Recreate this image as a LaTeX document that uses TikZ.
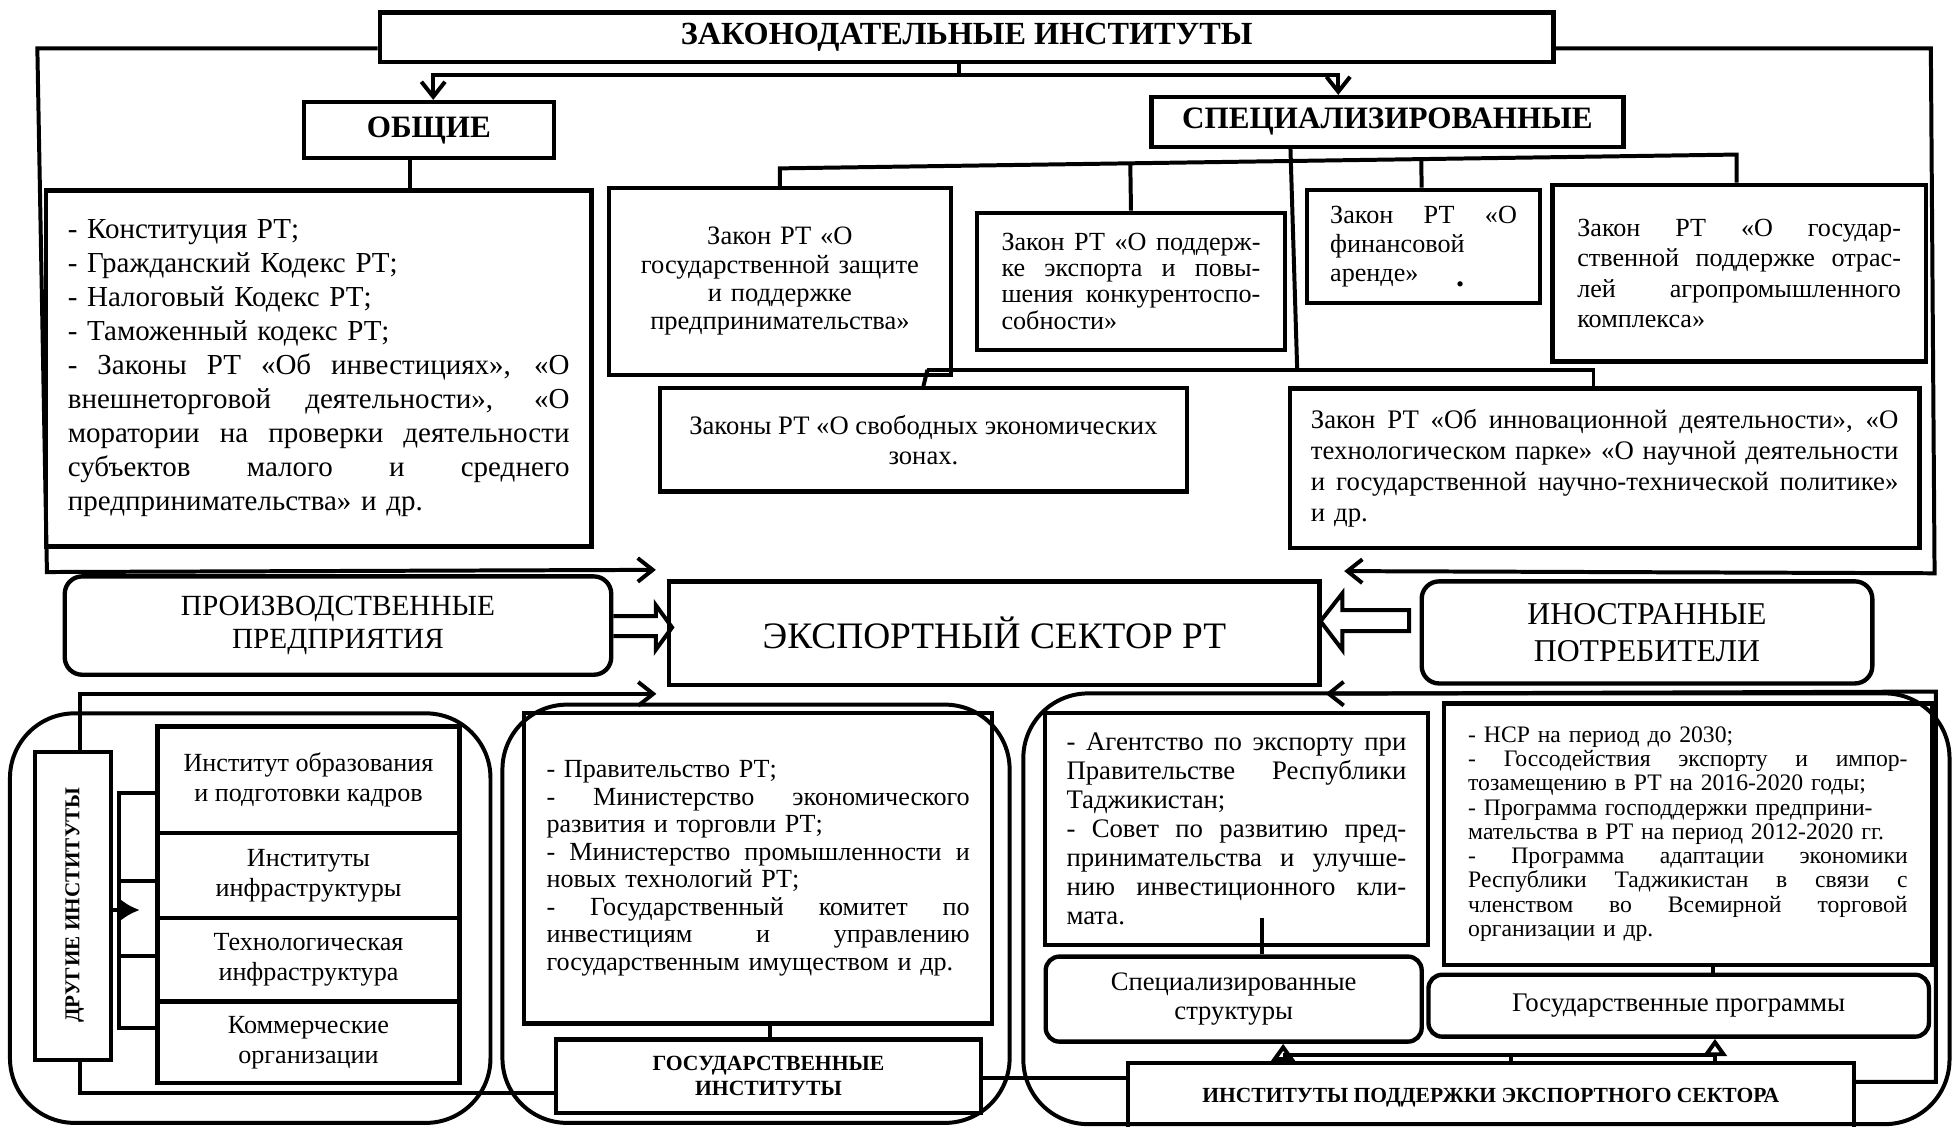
\documentclass[tikz,border=0pt]{standalone}
\usepackage{fontspec}
\setmainfont{Liberation Serif}
\usetikzlibrary{calc,arrows.meta}
\newcommand\setfs[2]{\fontsize{#1}{#2}\selectfont}
\newcommand\jl[2]{\leavevmode\hbox to #1{\spaceskip=.25em plus 1fil\xspaceskip=.25em plus 1fil\relax #2}}
\begin{document}
\begin{tikzpicture}[x=1pt,y=-1pt,
  box/.style={draw,line width=3.5pt,rectangle,inner sep=0pt,align=center},
  rbox/.style={box,rounded corners=14pt},
  sbox/.style={box,rounded corners=11pt},
  grp/.style={draw,line width=3.2pt,rectangle,rounded corners=52pt,inner sep=0pt},
  conn/.style={line width=3.2pt},
  harrow/.style={line width=3.2pt,line join=miter},
  arrV/.style={-{Straight Barb[length=12pt,width=19pt]}},
  arrL/.style={-{Latex[length=15pt,width=17pt]}},
  arrT/.style={-{Triangle[open,length=14pt,width=19pt]}},
]
\useasboundingbox (0,0) rectangle (1568,905);

% group containers
\node[grp,minimum width=386pt,minimum height=329pt] (grp1) at (201,737.5) {};
\node[grp,minimum width=407.4pt,minimum height=336pt] (grp2) at (607.3,734) {};
\node[grp,minimum width=744pt,minimum height=346pt] (grp3) at (1194,730) {};

% top level
\node[box,minimum width=943pt,minimum height=40pt,font={\bfseries\setfs{25.9}{30}}] (top) at (776.5,30) {ЗАКОНОДАТЕЛЬНЫЕ ИНСТИТУТЫ};
\node[box,minimum width=201pt,minimum height=45pt,font={\bfseries\setfs{25}{30}}] (obsh) at (344.5,104.5) {ОБЩИЕ};
\node[box,minimum width=379pt,minimum height=40pt,font={\bfseries\setfs{25}{30}}] (spec) at (1114.5,98) {СПЕЦИАЛИЗИРОВАННЫЕ};

\node[box,minimum width=438pt,minimum height=286pt,text width=403pt,align=left,font={\setfs{23.3}{27.3}}] (gen) at (256,296) {%
- Конституция РТ;\\
- Гражданский Кодекс РТ;\\
- Налоговый Кодекс РТ;\\
- Таможенный кодекс РТ;\\
\jl{403pt}{- Законы РТ «Об инвестициях», «О}\\
\jl{403pt}{внешнеторговой деятельности», «О}\\
\jl{403pt}{моратории на проверки деятельности}\\
\jl{403pt}{субъектов малого и среднего}\\
предпринимательства» и др.};

\node[box,minimum width=275pt,minimum height=150pt,text width=255pt,font={\setfs{21.3}{22.7}}] (A) at (626.5,226) {Закон РТ «О\\ государственной защите\\ и поддержке\\ предпринимательства»};

\node[box,minimum width=247pt,minimum height=110pt,text width=208pt,align=left,font={\setfs{21}{21}}] (B) at (908.5,226) {%
\jl{208pt}{Закон РТ «О поддерж-}\\
\jl{208pt}{ке экспорта и повы-}\\
\jl{208pt}{шения конкурентоспо-}\\
собности»};

\node[box,minimum width=187pt,minimum height=91pt,text width=150pt,align=left,font={\setfs{21}{23.5}}] (C) at (1143.5,198) {%
\jl{150pt}{Закон РТ «О}\\
финансовой\\
аренде»};
\node[inner sep=0pt,font={\bfseries\setfs{26}{26}}] (cdot) at (1173,228) {.};

\node[box,minimum width=300pt,minimum height=142pt,text width=260pt,align=left,font={\setfs{21}{24.5}}] (D) at (1397,219.5) {%
\jl{260pt}{Закон РТ «О государ-}\\
\jl{260pt}{ственной поддержке отрас-}\\
\jl{260pt}{лей агропромышленного}\\
комплекса»};

\node[box,minimum width=423.5pt,minimum height=83pt,font={\setfs{21.4}{24}}] (E) at (741.75,353.4) {Законы РТ «О свободных экономических\\ зонах.};

\node[box,minimum width=506pt,minimum height=128pt,text width=472pt,align=left,font={\setfs{21.5}{25}}] (F) at (1289,376) {%
\jl{472pt}{Закон РТ «Об инновационной деятельности», «О}\\
\jl{472pt}{технологическом парке» «О научной деятельности}\\
\jl{472pt}{и государственной научно-технической политике»}\\
и др.};

% middle row
\node[rbox,minimum width=439pt,minimum height=79pt,font={\setfs{23.5}{26}}] (prod) at (271.5,502.5) {ПРОИЗВОДСТВЕННЫЕ\\ПРЕДПРИЯТИЯ};
\node[box,minimum width=522.4pt,minimum height=83pt,font={\setfs{30}{32}}] (export) at (798.8,508.5) {ЭКСПОРТНЫЙ СЕКТОР РТ};
\node[rbox,minimum width=362pt,minimum height=82pt,font={\setfs{25.5}{29.4}}] (inostr) at (1323,508) {ИНОСТРАННЫЕ\\ПОТРЕБИТЕЛИ};

% bottom left group
\node[box,minimum width=61pt,minimum height=247.6pt] (drug) at (58.5,727.6) {};
\node[rotate=90,inner sep=0pt,font={\bfseries\setfs{17}{20}}] (drugt) at (60,727) {ДРУГИЕ ИНСТИТУТЫ};
\node[box,minimum width=242.4pt,minimum height=85.3pt,font={\setfs{21}{24}}] (s1) at (247.8,626.35) {Институт образования\\и подготовки кадров};
\node[box,minimum width=242.4pt,minimum height=68.6pt,font={\setfs{21}{24}}] (s2) at (247.8,703.3) {Институты\\инфраструктуры};
\node[box,minimum width=242.4pt,minimum height=67pt,font={\setfs{21}{24}}] (s3) at (247.8,771.1) {Технологическая\\инфраструктура};
\node[box,minimum width=242.4pt,minimum height=65.4pt,font={\setfs{21}{24}}] (s4) at (247.8,837.3) {Коммерческие\\организации};

% bottom middle group
\node[box,minimum width=376pt,minimum height=249.3pt,text width=340pt,align=left,font={\setfs{21}{22.1}}] (govlist) at (609,697.35) {%
- Правительство РТ;\\
\jl{340pt}{- Министерство экономического}\\
развития и торговли РТ;\\
\jl{340pt}{- Министерство промышленности и}\\
новых технологий РТ;\\
\jl{340pt}{- Государственный комитет по}\\
\jl{340pt}{инвестициям и управлению}\\
государственным имуществом и др.};
\node[box,minimum width=341.4pt,minimum height=59pt,font={\bfseries\setfs{17.4}{20}}] (govinst) at (617.3,864.5) {ГОСУДАРСТВЕННЫЕ\\ИНСТИТУТЫ};

% bottom right group
\node[box,minimum width=307.6pt,minimum height=186.3pt,text width=273pt,align=left,font={\setfs{21.5}{23.2}}] (agency) at (993.2,665.85) {%
\jl{273pt}{- Агентство по экспорту при}\\
\jl{273pt}{Правительстве Республики}\\
Таджикистан;\\
\jl{273pt}{- Совет по развитию пред-}\\
\jl{273pt}{принимательства и улучше-}\\
\jl{273pt}{нию инвестиционного кли-}\\
мата.};
\node[sbox,minimum width=302pt,minimum height=68.3pt,font={\setfs{21.4}{23}}] (specstr) at (991,802.55) {Специализированные\\структуры};
\node[box,minimum width=392.3pt,minimum height=210pt,text width=353pt,align=left,font={\setfs{19}{19.5}}] (proglist) at (1355.85,670) {%
- НСР на период до 2030;\\
\jl{353pt}{- Госсодействия экспорту и импор-}\\
тозамещению в РТ на 2016-2020 годы;\\
- Программа господдержки предприни-\\
мательства в РТ на период 2012-2020 гг.\\
\jl{353pt}{- Программа адаптации экономики}\\
\jl{353pt}{Республики Таджикистан в связи с}\\
\jl{353pt}{членством во Всемирной торговой}\\
организации и др.};
\node[sbox,minimum width=402pt,minimum height=49.7pt,font={\setfs{21.6}{24}}] (govprog) at (1348.45,807.85) {Государственные программы};
\node[box,minimum width=583pt,minimum height=56pt,font={\bfseries\setfs{17.3}{21}}] (supinst) at (1197.5,882) {ИНСТИТУТЫ ПОДДЕРЖКИ ЭКСПОРТНОГО СЕКТОРА};

% ---------- connectors ----------
\draw[conn,arrV] ($(top.west)+(0,8.8)$) -- (30,38.8) -- (37.7,459.5) -- ($(export.north west)+(-9,-7.5)$);
\draw[conn,arrV] ($(top.east)+(0,8.8)$) -- (1551,38.8) -- (1554,460.5) -- ($(export.north east)+(18,-6.5)$);
\coordinate (tj) at (770.7,60);
\draw[conn] (top.south -| tj) -- (tj);
\draw[conn,arrV] (tj) -| ($(obsh.north)+(3.5,0)$);
\draw[conn,arrV] (tj) -| ($(spec.north)+(-39.5,0)$);
\coordinate (o1) at ($(obsh.south)+(-15.5,0)$);
\draw[conn] (o1) -- (o1 |- gen.north);
\coordinate (bus1a) at ($(A.north)+(0,-14)$);
\coordinate (bus1b) at ($(D.north)+(-2,-22.6)$);
\coordinate (cn) at ($(C.north)+(-1.5,0)$);
\draw[conn] (A.north) -- (bus1a) -- (bus1b) -- ($(D.north)+(-2,0)$);
\draw[conn] (B.north) -- ($(bus1a)!(B.north)!(bus1b)$);
\draw[conn] (cn) -- ($(bus1a)!(cn)!(bus1b)$);
\coordinate (b2l) at (745,297);
\coordinate (b2r) at (1280,297);
\draw[conn] ($(spec.south)+(-77.9,0)$) -- (1042,297);
\draw[conn] (b2l) -- (b2r) -- (b2r |- F.north);
\draw[conn] (b2l) -- (E.north);
% hollow arrows
\draw[harrow] ($(prod.east)+(0,-7.5)$) -- ++(34,0) -- ++(0,-9) -- ($(export.west)+(4,-4.5)$) -- ($(prod.east)+(34,19.5)$) -- ++(0,-11) -- ($(prod.east)+(0,8.5)$);
\draw[harrow] ($(inostr.west)+(-8.4,-18)$) -- ($(inostr.west)+(-62,-18)$) -- ++(0,-13.4) -- ($(export.east)+(-1,-9.5)$) -- ($(inostr.west)+(-62,14)$) -- ++(0,-15) -- ($(inostr.west)+(-8.4,-1)$) -- cycle;
% lower left
\draw[conn] ($(govinst.west)+(0,13.5)$) -| ($(drug.south)+(5.5,0)$);
\draw[conn,arrV] ($(drug.north)+(5.5,0)$) |- ($(export.south west)+(-8.6,5.6)$);
\draw[conn] ($(s1.west)+(0,10.65)$) -- ($(s1.west)+(-29.6,10.65)$) -- ($(s4.west)+(-29.6,-11.3)$) -- ($(s4.west)+(0,-11.3)$);
\draw[conn] ($(s2.west)+(-29.6,4.7)$) -- ($(s2.west)+(0,4.7)$);
\draw[conn] ($(s3.west)+(-29.6,-3.1)$) -- ($(s3.west)+(0,-3.1)$);
\draw[conn,arrL] ($(drug.east)+(0,3.4)$) -- ($(drug.east)+(21.5,3.4)$);
% state institutions
\coordinate (g1) at ($(govlist.south)+(9.6,0)$);
\draw[conn] (g1) -- (g1 |- govinst.north);
\draw[conn] ($(govinst.east)+(0,1.5)$) -- ($(supinst.west)+(0,-16)$);
% support institutions
\coordinate (rb) at (1555,555.5);
\draw[conn,arrV] ($(supinst.east)+(0,-13)$) -| (rb) -- ($(export.south east)+(3,5.5)$);
\draw[conn] ($(specstr.north)+(23,-29.4)$) -- ($(specstr.north)+(23,0)$);
\coordinate (p1) at ($(proglist.south)+(20,0)$);
\draw[conn] (p1) -- (p1 |- govprog.north);
\coordinate (sj) at ($(supinst.north)+(16.5,-5)$);
\coordinate (sa) at ($(specstr.south)+(39.7,0)$);
\coordinate (sb) at ($(govprog.south)+(29.15,0)$);
\draw[conn] (supinst.north -| sj) -- (sj);
\draw[conn] (sa |- sj) -- (sb |- sj);
\draw[conn,arrT] ($(sa)+(0,17)$) -- (sa);
\draw[conn,arrT] ($(sb)+(0,21)$) -- (sb);
\end{tikzpicture}
\end{document}
